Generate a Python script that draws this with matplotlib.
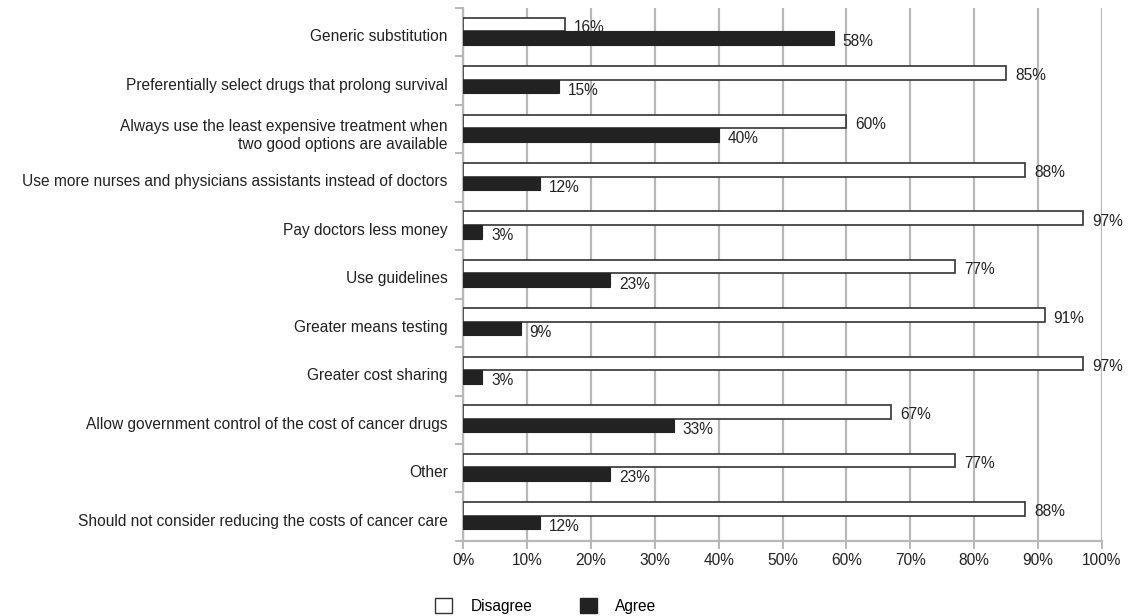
import matplotlib
matplotlib.use("Agg")
import matplotlib.pyplot as plt
import numpy as np
from matplotlib.ticker import FixedLocator, PercentFormatter
from matplotlib.patches import Patch

plt.rcParams["font.family"] = ["Liberation Sans", "DejaVu Sans"]

categories = [
    "Generic substitution",
    "Preferentially select drugs that prolong survival",
    "Always use the least expensive treatment when\ntwo good options are available",
    "Use more nurses and physicians assistants instead of doctors",
    "Pay doctors less money",
    "Use guidelines",
    "Greater means testing",
    "Greater cost sharing",
    "Allow government control of the cost of cancer drugs",
    "Other",
    "Should not consider reducing the costs of cancer care",
]
disagree = [16, 85, 60, 88, 97, 77, 91, 97, 67, 77, 88]
agree = [58, 15, 40, 12, 3, 23, 9, 3, 33, 23, 12]

GRID = "#b8b8b8"
DARK = "#222222"
FS = 11.2

fig = plt.figure(figsize=(11.28, 6.16), dpi=100)
ax = fig.add_axes([0.4105, 0.122, 0.5665, 0.865])

y = np.arange(len(categories))
h = 0.28
ax.barh(y - 0.16, disagree, height=h, color="white", edgecolor="#333333",
        linewidth=1.2, zorder=3)
ax.barh(y + 0.12, agree, height=h, color=DARK, edgecolor=DARK,
        linewidth=0.8, zorder=3)

for yi, d, a in zip(y, disagree, agree):
    ax.text(d + 1.4, yi - 0.1, f"{d}%", va="center", ha="left", fontsize=FS,
            color="#222222", zorder=4)
    ax.text(a + 1.4, yi + 0.2, f"{a}%", va="center", ha="left", fontsize=FS,
            color="#222222", zorder=4)

ax.set_xlim(0, 100)
ax.set_ylim(len(categories) - 0.5, -0.5)
ax.xaxis.set_major_locator(FixedLocator(np.arange(0, 101, 10)))
ax.xaxis.set_major_formatter(PercentFormatter(decimals=0))
ax.grid(axis="x", color=GRID, lw=1.6, zorder=0)

# category names sit a touch below the pair centre
ax.set_yticks(y + 0.06)
ax.set_yticklabels(categories, fontsize=FS, color="#222222", linespacing=1.3)
ax.tick_params(axis="y", length=0, pad=11)
ax.set_yticks(np.arange(-0.5, len(categories), 1), minor=True)
ax.tick_params(axis="y", which="minor", length=6, width=1.4, color=GRID)
ax.tick_params(axis="x", length=6, width=1.4, color=GRID, labelsize=FS,
               labelcolor="#222222", pad=3)

for sp in ("top", "right"):
    ax.spines[sp].set_visible(False)
for sp in ("left", "bottom"):
    ax.spines[sp].set_color(GRID)
    ax.spines[sp].set_linewidth(1.6)

handles = [Patch(facecolor="white", edgecolor="#333333", lw=1.0, label="Disagree"),
           Patch(facecolor=DARK, edgecolor=DARK, label="Agree")]
fig.legend(handles=handles, loc="center", bbox_to_anchor=(0.484, 0.016),
           ncol=2, frameon=False, fontsize=FS, handlelength=1.1,
           handleheight=1.1, columnspacing=3.0, handletextpad=1.2)

fig.savefig("out.png", dpi=100)
